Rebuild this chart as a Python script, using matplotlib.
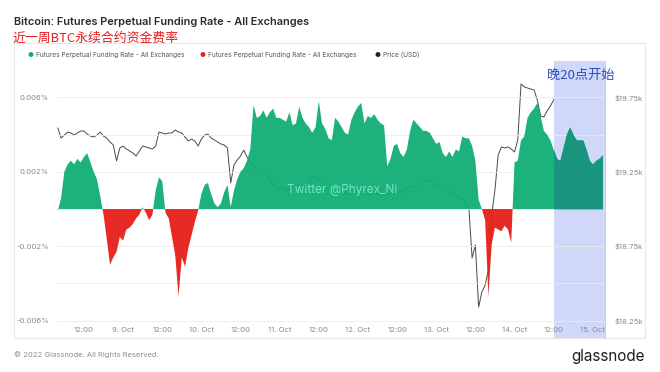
import matplotlib
matplotlib.use("Agg")
import matplotlib.pyplot as plt
import matplotlib.dates as mdates
from matplotlib.patches import Rectangle
import numpy as np
import pandas as pd

# hourly data, 8 Oct 04:00 -> 15 Oct 03:00 (UTC)
start_time = "2022-10-08 04:00"
funding = [
    -0.0001, 0.0006, 0.0020, 0.0024, 0.0026, 0.0024, 0.0027, 0.0025, 0.0028, 0.0030,
    0.0025, 0.0020, 0.0016, 0.0007, -0.0003, -0.0016, -0.0030, -0.0026, -0.0023, -0.0015,
    -0.0017, -0.0011, -0.0010, -0.0008, -0.0005, -0.0003, 0.0001, -0.0002, -0.0006, -0.0003,
    0.0010, 0.0017, 0.0015, -0.0002, -0.0005, -0.0015, -0.0025, -0.0047, -0.0026, -0.0031,
    -0.0021, -0.0014, -0.0007, -0.0001, 0.0008, 0.0013, 0.0014, 0.0008, 0.0003, 0.0001,
    0.0003, 0.0009, 0.0013, 0.0001, 0.0010, 0.0016, 0.0020, 0.0022, 0.0026, 0.0032,
    0.0056, 0.0049, 0.0050, 0.0053, 0.0049, 0.0052, 0.0054, 0.0049, 0.0049, 0.0048,
    0.0047, 0.0052, 0.0045, 0.0046, 0.0055, 0.0049, 0.0046, 0.0044, 0.0041, 0.0044,
    0.0058, 0.0046, 0.0043, 0.0038, 0.0037, 0.0049, 0.0047, 0.0044, 0.0041, 0.0040,
    0.0048, 0.0052, 0.0055, 0.0057, 0.0046, 0.0050, 0.0049, 0.0051, 0.0048, 0.0046,
    0.0045, 0.0023, 0.0027, 0.0034, 0.0035, 0.0030, 0.0028, 0.0032, 0.0042, 0.0048,
    0.0046, 0.0044, 0.0042, 0.0042, 0.0041, 0.0038, 0.0035, 0.0036, 0.0030, 0.0028,
    0.0031, 0.0028, 0.0032, 0.0031, 0.0039, 0.0038, 0.0038, 0.0034, 0.0026, 0.0005,
    0.0000, -0.0006, -0.0047, -0.0019, -0.0010, -0.0011, -0.0012, -0.0009, -0.0011, -0.0018,
    0.0025, 0.0026, 0.0037, 0.0039, 0.0049, 0.0052, 0.0054, 0.0057, 0.0050, 0.0042,
    0.0040, 0.0037, 0.0032, 0.0027, 0.0026, 0.0033, 0.0040, 0.0044, 0.0040, 0.0037,
    0.0037, 0.0037, 0.0032, 0.0026, 0.0024, 0.0026, 0.0027, 0.0029,
]
price = [
    19544, 19477, 19497, 19517, 19511, 19497, 19511, 19524, 19524, 19504,
    19490, 19484, 19497, 19517, 19490, 19477, 19450, 19430, 19323, 19410,
    19423, 19403, 19390, 19376, 19356, 19390, 19423, 19417, 19410, 19403,
    19423, 19517, 19511, 19504, 19511, 19511, 19531, 19517, 19511, 19484,
    19457, 19470, 19457, 19423, 19470, 19497, 19504, 19477, 19464, 19450,
    19437, 19430, 19410, 19175, 19296, 19329, 19356, 19396, 19349, 19316,
    19289, 19269, 19255, 19242, 19235, 19195, 19168, 19148, 19128, 19141,
    19121, 19134, 19155, 19168, 19148, 19128, 19155, 19181, 19208, 19215,
    19195, 19175, 19155, 19134, 19114, 19128, 19141, 19128, 19108, 19094,
    19114, 19128, 19141, 19121, 19108, 19094, 19101, 19114, 19101, 19087,
    19094, 19101, 19108, 19114, 19121, 19108, 19128, 19134, 19148, 19155,
    19148, 19168, 19181, 19188, 19195, 19175, 19155, 19148, 19134, 19128,
    19128, 19108, 19094, 19081, 19074, 19047, 19007, 18671, 18758, 18341,
    18442, 18489, 18590, 18960, 19128, 19363, 19417, 19410, 19417, 19403,
    19383, 19464, 19840, 19820, 19813, 19806, 19800, 19732, 19625, 19618,
    19659, 19692, 19732, 19786, 19632, 19430, 19329, 19289, 19276, 19262,
    19242, 19215, 19195, 19208, 19222, 19208, 19195, 19181,
]
left_ticks = [-0.006, -0.004, -0.002, 0.0, 0.002, 0.004, 0.006]
left_labels = ["-0.006%", "", "-0.002%", "", "0.002%", "", "0.006%"]
right_ticks = [18250, 18750, 19250, 19750]
right_labels = ["$18.25k", "$18.75k", "$19.25k", "$19.75k"]
highlight_start = "2022-10-14 12:00"

GREEN = "#10ae74"
TEAL = "#19957f"
RED = "#e8231e"
GREY = "#8a8a8a"

plt.rcParams["font.family"] = ["Inter", "DejaVu Sans"]

t = pd.date_range(start_time, periods=len(funding), freq="h")
f = np.array(funding)
p = np.array(price)

fig = plt.figure(figsize=(6.6, 3.72), dpi=100)
ax = fig.add_axes([0.0864, 0.1331, 0.8303, 0.6551])
ax2 = ax.twinx()

x0 = pd.Timestamp("2022-10-08 03:45")
x1 = pd.Timestamp("2022-10-15 03:45")
ylo, yhi = -0.0061, 0.0070
ax.set_xlim(x0, x1)
ax.set_ylim(ylo, yhi)
ax2.set_ylim(19000 + 125000 * ylo, 19000 + 125000 * yhi)

# card frame
fig.patches.append(Rectangle((14 / 660, 1 - 338 / 372), 631 / 660, 295 / 372,
                             transform=fig.transFigure, fill=False,
                             edgecolor="#e8e8e8", lw=0.8, zorder=0))

# highlighted window
ax.axvspan(pd.Timestamp(highlight_start), x1, ymin=-0.065, ymax=1.075,
           color="#cfd8f8", lw=0, zorder=0, clip_on=False)
ax.axvline(x1, ymin=-0.065, ymax=1.075, color="#b7c3f3", lw=0.6, clip_on=False, zorder=0)

ax.set_yticks(left_ticks)
ax.set_yticklabels(left_labels)
ax.grid(axis="y", color="#ececec", lw=0.6, zorder=0)
ax.set_axisbelow(True)

# price behind funding area
ax2.plot(t, p, color="#4a4a4a", lw=0.7, zorder=1)

ax.set_zorder(ax2.get_zorder() + 1)
ax.patch.set_visible(False)

ax.fill_between(t, 0, f, where=f >= 0, interpolate=True, color=GREEN, alpha=0.95, lw=0, zorder=2)
ax.fill_between(t, 0, f, where=f <= 0, interpolate=True, color=RED, alpha=0.97, lw=0, zorder=2)
hl = t >= pd.Timestamp(highlight_start)
ax.fill_between(t, 0, f, where=hl & (f >= 0), interpolate=True, color=TEAL, alpha=0.97, lw=0, zorder=3)

ax2.set_yticks(right_ticks)
ax2.set_yticklabels(right_labels)

ax.xaxis.set_major_locator(mdates.HourLocator(byhour=[0, 12]))
ax.xaxis.set_major_formatter(
    plt.FuncFormatter(lambda v, pos: (lambda d: d.strftime("%H:%M") if d.hour == 12
                                      else f"{d.day}. {d.strftime('%b')}")(mdates.num2date(v))))

for a in (ax, ax2):
    for s in a.spines.values():
        s.set_visible(False)
    a.tick_params(length=0, labelsize=5.5, labelcolor=GREY)
ax.tick_params(axis="y", pad=6)
ax2.tick_params(axis="y", pad=7)
ax.tick_params(axis="x", pad=3)

# texts
fig.text(14 / 660, 1 - 22 / 372, "Bitcoin: Futures Perpetual Funding Rate - All Exchanges",
         fontsize=7.9, fontweight="semibold", color="#2b2b2b", va="center")
fig.text(13 / 660, 1 - 38 / 372, "近一周BTC永续合约资金费率", fontsize=9.3, color="#e32222",
         va="center", family=["Noto Sans CJK SC", "DejaVu Sans"])

legend_items = [(31, GREEN, "Futures Perpetual Funding Rate - All Exchanges"),
                (203, RED, "Futures Perpetual Funding Rate - All Exchanges"),
                (378, "#222222", "Price (USD)")]
for lx, col, lab in legend_items:
    fig.text(lx / 660, 1 - 55 / 372, "●", fontsize=4.8, color=col, va="center", ha="center")
    fig.text((lx + 5) / 660, 1 - 55 / 372, lab, fontsize=4.7, color="#555555", va="center")

fig.text(581 / 660, 1 - 75 / 372, "晚20点开始", fontsize=9.5, color="#2f4bbd", va="center",
         ha="center", family=["Noto Sans CJK SC", "DejaVu Sans"])
fig.text(342 / 660, 1 - 190 / 372, "Twitter @Phyrex_Ni", fontsize=8.5, color="#70e6c8",
         va="center", ha="center", zorder=10)

fig.text(14 / 660, 1 - 355 / 372, "© 2022 Glassnode. All Rights Reserved.", fontsize=5.5,
         color="#8f8f8f", va="center")
fig.text(645 / 660, 1 - 356 / 372, "glassnode", fontsize=11, color="#1e1e1e", va="center", ha="right")

fig.savefig("out.png", dpi=100)
